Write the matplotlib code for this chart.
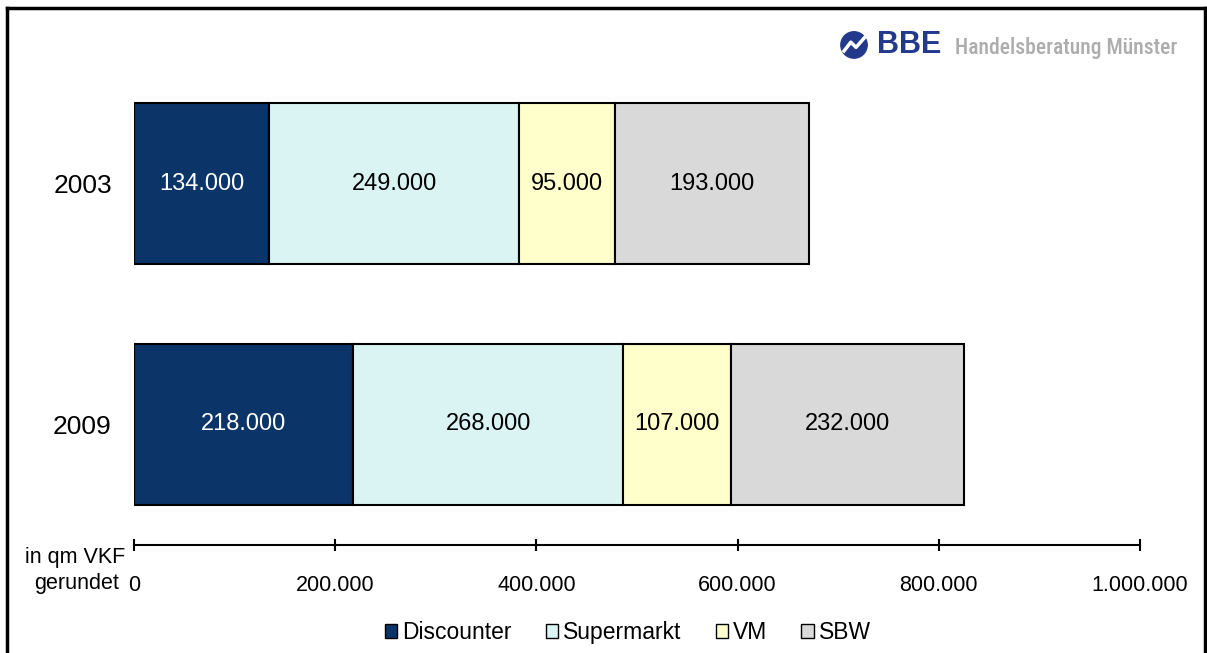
import matplotlib.pyplot as plt
import numpy as np
from matplotlib.patches import Patch, Circle
from matplotlib.ticker import FuncFormatter

plt.rcParams['font.family'] = ['Liberation Sans', 'DejaVu Sans']

years = ['2003', '2009']
categories = ['Discounter', 'Supermarkt', 'VM', 'SBW']
values = {
    'Discounter': [134000, 218000],
    'Supermarkt': [249000, 268000],
    'VM': [95000, 107000],
    'SBW': [193000, 232000],
}
colors = ['#0B3468', '#DAF4F4', '#FFFFCC', '#D9D9D9']
text_colors = ['white', 'black', 'black', 'black']

def de_fmt(v, pos=None):
    return f"{int(round(v)):,}".replace(',', '.')

fig = plt.figure(figsize=(12.07, 6.53), dpi=100)
ax = fig.add_axes([0.111, 0.1654, 0.8335, 0.7381])

y = np.arange(len(years))
left = np.zeros(len(years))
for cat, col, tcol in zip(categories, colors, text_colors):
    vals = np.array(values[cat])
    bars = ax.barh(y, vals, left=left, height=0.667, color=col,
                   edgecolor='black', linewidth=1.5, label=cat)
    for b, v in zip(bars, vals):
        ax.text(b.get_x() + b.get_width() / 2, b.get_y() + b.get_height() / 2,
                de_fmt(v), ha='center', va='center', color=tcol, fontsize=17)
    left += vals

ax.set_xlim(0, 1000000)
ax.set_ylim(1.5, -0.5)
ax.set_yticks(y)
ax.set_yticklabels(years, fontsize=19)
ax.tick_params(axis='y', length=0, pad=16)
ax.set_xticks(np.arange(0, 1000001, 200000))
ax.xaxis.set_major_formatter(FuncFormatter(de_fmt))
ax.tick_params(axis='x', direction='inout', length=9, width=1.5, labelsize=15.5, pad=17)
for s in ['top', 'right', 'left']:
    ax.spines[s].set_visible(False)
ax.spines['bottom'].set_linewidth(1.5)

fig.text(0.1036, 0.147, 'in qm VKF', ha='right', va='center', fontsize=15.5)
fig.text(0.0986, 0.107, 'gerundet', ha='right', va='center', fontsize=15.5)

handles = [Patch(facecolor=c, edgecolor='black', linewidth=1) for c in colors]
fig.legend(handles, categories, loc='center', bbox_to_anchor=(0.52, 0.031),
           ncol=4, frameon=False, fontsize=16.5, handlelength=0.55, handleheight=0.55,
           handletextpad=0.2, columnspacing=1.5)

# frame around the figure (no bottom edge)
fig.add_artist(plt.Line2D([0.0055, 0.0055], [0.0, 0.9875], color='black', lw=2.5, transform=fig.transFigure))
fig.add_artist(plt.Line2D([0.0055, 0.9985], [0.9875, 0.9875], color='black', lw=2.5, transform=fig.transFigure))
fig.add_artist(plt.Line2D([0.9985, 0.9985], [0.0, 0.9875], color='black', lw=2.5, transform=fig.transFigure))

# logo
logo = fig.add_axes([0.691, 0.9005, 0.0331, 0.0613])
logo.set_xlim(0, 1)
logo.set_ylim(0, 1)
logo.axis('off')
logo.add_patch(Circle((0.5, 0.5), 0.33, color='#233A8C'))
logo.plot([0.25, 0.42, 0.55, 0.76], [0.35, 0.57, 0.44, 0.68], color='white', lw=2.5)
fig.text(0.727, 0.931, 'BBE', fontsize=22, fontweight='heavy', color='#233A8C',
         ha='left', va='center')
fig.text(0.791, 0.926, 'Handelsberatung Münster', fontsize=15.5, color='#ADADAD',
         ha='left', va='center', family=['Roboto Condensed', 'Roboto', 'DejaVu Sans'],
         fontweight='medium')

fig.savefig('out.png', dpi=100)
